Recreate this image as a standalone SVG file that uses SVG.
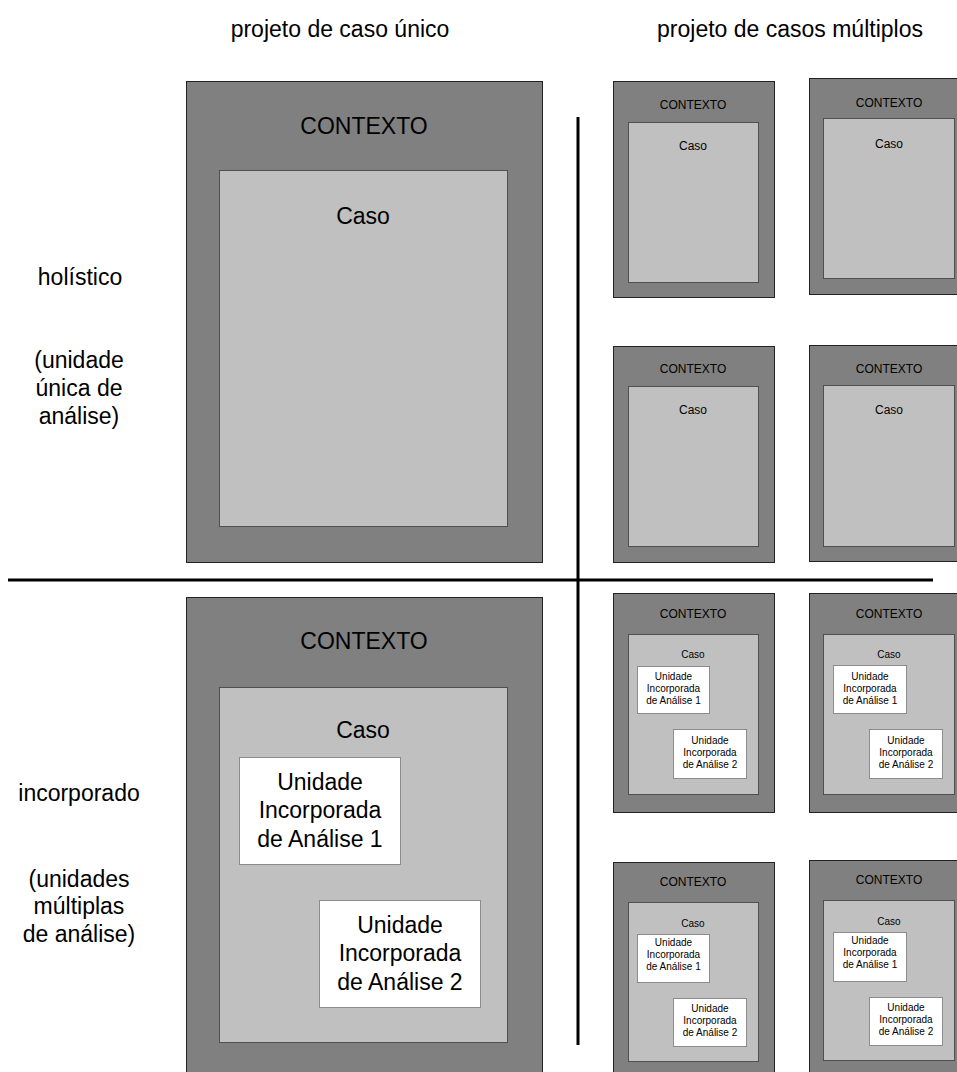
<svg xmlns="http://www.w3.org/2000/svg" width="957" height="1072" viewBox="0 0 957 1072">
<style>
text{font-family:"Liberation Sans",Arial,sans-serif;fill:#000;text-anchor:middle}
.lbl{font-size:23px}
.big{font-size:23px}
.sm{font-size:12px}
.xs{font-size:10px}
.ctx{fill:#808080;stroke:#222;stroke-width:1}
.caso{fill:#c0c0c0;stroke:#000;stroke-width:1;stroke-dasharray:1 1}
.unit{fill:#fff;stroke:#8c8c8c;stroke-width:1}
.div{stroke:#000;stroke-width:3;fill:none}
</style>
<rect width="957" height="1072" fill="#fff"/>
<g id="headers">
<text class="lbl" x="340" y="37">projeto de caso único</text>
<text class="lbl" x="790" y="37">projeto de casos múltiplos</text>
</g>
<g id="row-labels">
<text class="lbl" x="80" y="285">holístico</text>
<text class="lbl" x="79" y="368">(unidade</text>
<text class="lbl" x="79" y="396">única de</text>
<text class="lbl" x="79" y="424">análise)</text>
<text class="lbl" x="79" y="801">incorporado</text>
<text class="lbl" x="79" y="887">(unidades</text>
<text class="lbl" x="79" y="914">múltiplas</text>
<text class="lbl" x="79" y="942">de análise)</text>
</g>
<g id="dividers">
<line class="div" x1="8" y1="580" x2="933" y2="580"/>
<line class="div" x1="578" y1="117" x2="578" y2="1045"/>
</g>
<g id="single-holistic">
<rect class="ctx" x="186.5" y="81.5" width="356" height="481"/>
<text class="big" x="364" y="134">CONTEXTO</text>
<rect class="caso" x="219.5" y="170.5" width="288" height="356"/>
<text class="big" x="363" y="224">Caso</text>
</g>
<g id="single-embedded">
<rect class="ctx" x="186.5" y="597.5" width="356" height="490"/>
<text class="big" x="364" y="649">CONTEXTO</text>
<rect class="caso" x="219.5" y="687.5" width="288" height="355"/>
<text class="big" x="363" y="738">Caso</text>
<rect class="unit" x="239.5" y="757.5" width="161" height="107"/>
<text class="big" x="320" y="790">Unidade</text>
<text class="big" x="320" y="818">Incorporada</text>
<text class="big" x="320" y="847">de Análise 1</text>
<rect class="unit" x="319.5" y="900.5" width="161" height="107"/>
<text class="big" x="400" y="933">Unidade</text>
<text class="big" x="400" y="961">Incorporada</text>
<text class="big" x="400" y="990">de Análise 2</text>
</g>
<g id="multi-holistic-1">
<rect class="ctx" x="613.5" y="81.5" width="161" height="216"/>
<text class="sm" x="693" y="109">CONTEXTO</text>
<rect class="caso" x="628.5" y="122.5" width="130" height="160"/>
<text class="sm" x="693" y="150">Caso</text>
</g>
<g id="multi-holistic-2">
<rect class="ctx" x="809.5" y="78.5" width="161" height="216"/>
<text class="sm" x="889" y="107">CONTEXTO</text>
<rect class="caso" x="823.5" y="118.5" width="131" height="160"/>
<text class="sm" x="889" y="148">Caso</text>
</g>
<g id="multi-holistic-3">
<rect class="ctx" x="613.5" y="346.5" width="161" height="216"/>
<text class="sm" x="693" y="373">CONTEXTO</text>
<rect class="caso" x="628.5" y="386.5" width="130" height="160"/>
<text class="sm" x="693" y="414">Caso</text>
</g>
<g id="multi-holistic-4">
<rect class="ctx" x="809.5" y="345.5" width="161" height="216"/>
<text class="sm" x="889" y="373">CONTEXTO</text>
<rect class="caso" x="823.5" y="385.5" width="131" height="161"/>
<text class="sm" x="889" y="414">Caso</text>
</g>
<g id="multi-embedded-1">
<rect class="ctx" x="613.5" y="593.5" width="161" height="219"/>
<text class="sm" x="693" y="618">CONTEXTO</text>
<rect class="caso" x="628.5" y="634.5" width="130" height="160"/>
<text class="xs" x="693" y="658">Caso</text>
<rect class="unit" x="637.5" y="666.5" width="72" height="47"/>
<text class="xs" x="673.5" y="680">Unidade</text>
<text class="xs" x="673.5" y="692">Incorporada</text>
<text class="xs" x="673.5" y="704">de Análise 1</text>
<rect class="unit" x="673.5" y="729.5" width="73" height="49"/>
<text class="xs" x="710" y="744">Unidade</text>
<text class="xs" x="710" y="756">Incorporada</text>
<text class="xs" x="710" y="768">de Análise 2</text>
</g>
<g id="multi-embedded-2">
<rect class="ctx" x="809.5" y="593.5" width="161" height="219"/>
<text class="sm" x="889" y="618">CONTEXTO</text>
<rect class="caso" x="823.5" y="634.5" width="131" height="160"/>
<text class="xs" x="889" y="658">Caso</text>
<rect class="unit" x="833.5" y="665.5" width="73" height="48"/>
<text class="xs" x="870" y="680">Unidade</text>
<text class="xs" x="870" y="692">Incorporada</text>
<text class="xs" x="870" y="704">de Análise 1</text>
<rect class="unit" x="869.5" y="729.5" width="73" height="49"/>
<text class="xs" x="906" y="744">Unidade</text>
<text class="xs" x="906" y="756">Incorporada</text>
<text class="xs" x="906" y="768">de Análise 2</text>
</g>
<g id="multi-embedded-3">
<rect class="ctx" x="613.5" y="862.5" width="161" height="219"/>
<text class="sm" x="693" y="886">CONTEXTO</text>
<rect class="caso" x="628.5" y="902.5" width="130" height="159"/>
<text class="xs" x="693" y="927">Caso</text>
<rect class="unit" x="637.5" y="934.5" width="72" height="48"/>
<text class="xs" x="673.5" y="946">Unidade</text>
<text class="xs" x="673.5" y="958">Incorporada</text>
<text class="xs" x="673.5" y="970">de Análise 1</text>
<rect class="unit" x="673.5" y="998.5" width="73" height="48"/>
<text class="xs" x="710" y="1012">Unidade</text>
<text class="xs" x="710" y="1024">Incorporada</text>
<text class="xs" x="710" y="1036">de Análise 2</text>
</g>
<g id="multi-embedded-4">
<rect class="ctx" x="809.5" y="860.5" width="161" height="221"/>
<text class="sm" x="889" y="884">CONTEXTO</text>
<rect class="caso" x="823.5" y="900.5" width="131" height="160"/>
<text class="xs" x="889" y="925">Caso</text>
<rect class="unit" x="833.5" y="932.5" width="73" height="49"/>
<text class="xs" x="870" y="944">Unidade</text>
<text class="xs" x="870" y="956">Incorporada</text>
<text class="xs" x="870" y="968">de Análise 1</text>
<rect class="unit" x="869.5" y="997.5" width="73" height="48"/>
<text class="xs" x="906" y="1011">Unidade</text>
<text class="xs" x="906" y="1023">Incorporada</text>
<text class="xs" x="906" y="1035">de Análise 2</text>
</g>
</svg>
